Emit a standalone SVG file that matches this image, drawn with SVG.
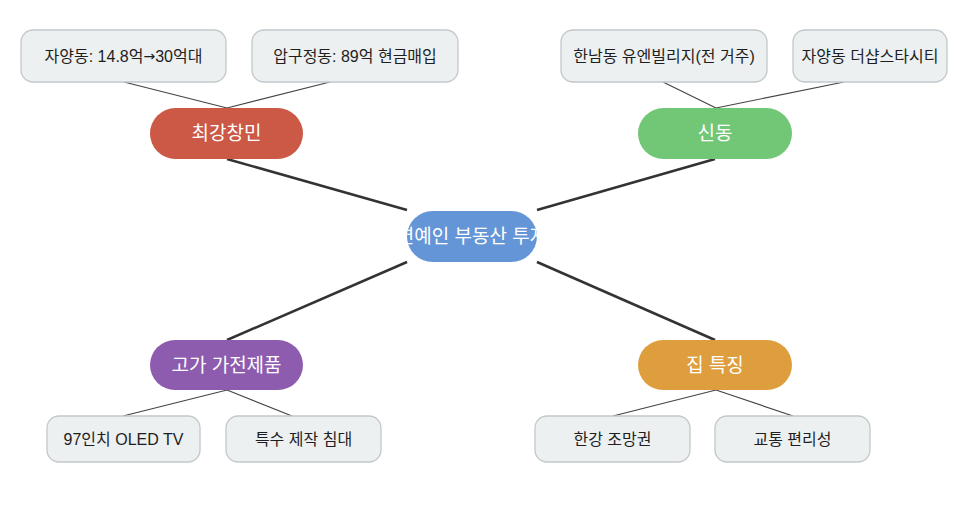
<svg xmlns="http://www.w3.org/2000/svg" width="966" height="525" viewBox="0 0 966 525">
<style>
.leaf rect{fill:#ecf0f1;stroke:#c3c8cb;stroke-width:1.3}
.leaf text{font-family:"Liberation Sans","Noto Sans CJK KR",sans-serif;font-size:16px;fill:#1e1e1e;text-anchor:middle;dominant-baseline:central}
.pill text{font-family:"Liberation Sans","Noto Sans CJK KR",sans-serif;font-size:19px;fill:#fff;text-anchor:middle;dominant-baseline:central}
.main{stroke:#333;stroke-width:2.5;fill:none}
.sub{stroke:#444;stroke-width:1.2;fill:none}
.arr{font-family:"DejaVu Sans",sans-serif;font-size:14px}
</style>
<defs>
<clipPath id="cclip"><rect x="407" y="211" width="130" height="51" rx="25.5"/></clipPath>
</defs>
<rect width="966" height="525" fill="#fff"/>
<g id="connectors">
<line class="main" x1="407" y1="210" x2="227" y2="159"/>
<line class="main" x1="537" y1="210" x2="715" y2="159"/>
<line class="main" x1="407" y1="262" x2="227" y2="340"/>
<line class="main" x1="537" y1="262" x2="715" y2="340"/>
<line class="sub" x1="124" y1="82" x2="227" y2="108"/>
<line class="sub" x1="330" y1="82" x2="227" y2="108"/>
<line class="sub" x1="663" y1="82" x2="716" y2="108"/>
<line class="sub" x1="844" y1="82" x2="716" y2="108"/>
<line class="sub" x1="227" y1="390" x2="123" y2="416"/>
<line class="sub" x1="227" y1="390" x2="292" y2="416"/>
<line class="sub" x1="716" y1="390" x2="613" y2="416"/>
<line class="sub" x1="716" y1="390" x2="793" y2="416"/>
</g>
<g id="center" class="pill">
<rect x="407" y="211" width="130" height="51" rx="25.5" fill="#6496d7"/>
<text x="472" y="236.5" clip-path="url(#cclip)">연예인 부동산 투자</text>
</g>
<g id="n-changmin" class="pill">
<rect x="150" y="108" width="153" height="51" rx="25.5" fill="#cc5846"/>
<text x="226.5" y="133.5">최강창민</text>
</g>
<g id="n-shindong" class="pill">
<rect x="638" y="108" width="154" height="51" rx="25.5" fill="#72c777"/>
<text x="715" y="133.5">신동</text>
</g>
<g id="n-appliance" class="pill">
<rect x="150" y="340" width="153" height="50" rx="25" fill="#8e5cae"/>
<text x="226.5" y="365">고가 가전제품</text>
</g>
<g id="n-house" class="pill">
<rect x="638" y="340" width="154" height="50" rx="25" fill="#de9e3d"/>
<text x="715" y="365">집 특징</text>
</g>
<g id="l-jayang" class="leaf">
<rect x="21" y="30" width="205" height="52" rx="12"/>
<text x="123.5" y="56">자양동: 14.8억<tspan class="arr">→</tspan>30억대</text>
</g>
<g id="l-apgujeong" class="leaf">
<rect x="252" y="30" width="206" height="52" rx="12"/>
<text x="355" y="56">압구정동: 89억 현금매입</text>
</g>
<g id="l-hannam" class="leaf">
<rect x="561" y="30" width="206" height="52" rx="12"/>
<text x="664" y="56">한남동 유엔빌리지(전 거주)</text>
</g>
<g id="l-thesharp" class="leaf">
<rect x="793" y="30" width="154" height="52" rx="12"/>
<text x="870" y="56">자양동 더샵스타시티</text>
</g>
<g id="l-oled" class="leaf">
<rect x="47" y="416" width="153" height="46" rx="12"/>
<text x="123.5" y="439">97인치 OLED TV</text>
</g>
<g id="l-bed" class="leaf">
<rect x="226" y="416" width="155" height="46" rx="12"/>
<text x="303.5" y="439">특수 제작 침대</text>
</g>
<g id="l-view" class="leaf">
<rect x="535" y="416" width="155" height="46" rx="12"/>
<text x="612.5" y="439">한강 조망권</text>
</g>
<g id="l-traffic" class="leaf">
<rect x="715" y="416" width="155" height="46" rx="12"/>
<text x="792.5" y="439">교통 편리성</text>
</g>
</svg>
